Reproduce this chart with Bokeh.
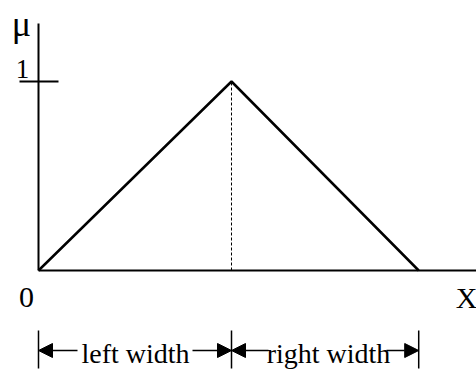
from bokeh.plotting import figure
from bokeh.models import Arrow, NormalHead, Range1d
from bokeh.core.properties import value
from bokeh.embed import file_html
from bokeh.resources import INLINE

# Triangular membership function
left_width = 1.0
right_width = 0.97
peak_mu = 1.0
xs = [0.0, left_width, left_width + right_width]
mus = [0.0, peak_mu, 0.0]

tick_labels = ["1"]
origin_label = "0"
x_label = "X"
y_label = "μ"
dim_labels = ["left width", "right width"]

W, H = 476, 373
SX, SY = 193.0, 189.0          # pixels per data unit
OX, OY = 38.0, 103.0           # origin offset from left / bottom
p = figure(width=W, height=H, output_backend="svg", toolbar_location=None,
           x_range=Range1d(-OX / SX, (W - OX) / SX),
           y_range=Range1d(-OY / SY, (H - OY) / SY),
           min_border=0)
p.axis.visible = False
p.grid.visible = False
p.outline_line_color = None
p.background_fill_color = "white"

SERIF = value("Liberation Serif")
xmax = p.x_range.end
c = xs[1]
r = xs[2]

def dx(px):
    return (px - OX) / SX

def dy_(py):
    return (H - OY - py) / SY

# axes
p.line([0, 0], [0, dy_(23)], line_color="black", line_width=2)
p.line([0, xmax], [0, 0], line_color="black", line_width=2)
# tick at mu = 1
p.line([dx(19), dx(58)], [peak_mu, peak_mu], line_color="black", line_width=2)

# triangle
p.line(xs, mus, line_color="black", line_width=2.5)
# dashed center
p.line([c, c], [0, peak_mu], line_color="black", line_width=1, line_dash="3 2")

# labels
p.text([dx(22)], [dy_(68)], text=tick_labels, text_font=SERIF, text_font_size="27px",
       text_align="center", text_baseline="middle")
p.text([dx(26)], [dy_(297)], text=[origin_label], text_font=SERIF, text_font_size="30px",
       text_align="center", text_baseline="middle")
p.text([dx(466)], [dy_(297)], text=[x_label], text_font=SERIF, text_font_size="30px",
       text_align="center", text_baseline="middle")
p.text([dx(21)], [dy_(23)], text=[y_label], text_font=SERIF, text_font_size="36px",
       text_align="center", text_baseline="middle")

# dimension lines
ydim = dy_(350)
bar_lo, bar_hi = dy_(368), dy_(330)
for bx in xs:
    p.line([bx, bx], [bar_lo, bar_hi], line_color="black", line_width=1.5)

spans = [(xs[0], c), (c, r)]
starts = [(dx(77), dx(192)), (dx(268), dx(386))]
text_x = [dx(135), dx(328)]
for (a, b), (s0, s1), tx, lab in zip(spans, starts, text_x, dim_labels):
    p.add_layout(Arrow(end=NormalHead(size=14, fill_color="black", line_color="black"),
                       x_start=s0, y_start=ydim, x_end=a, y_end=ydim,
                       line_color="black", line_width=1.5))
    p.add_layout(Arrow(end=NormalHead(size=14, fill_color="black", line_color="black"),
                       x_start=s1, y_start=ydim, x_end=b, y_end=ydim,
                       line_color="black", line_width=1.5))
    p.text([tx], [dy_(353)], text=[lab], text_font=SERIF, text_font_size="28px",
           text_align="center", text_baseline="middle")

open("out.html", "w").write(file_html(p, INLINE))
